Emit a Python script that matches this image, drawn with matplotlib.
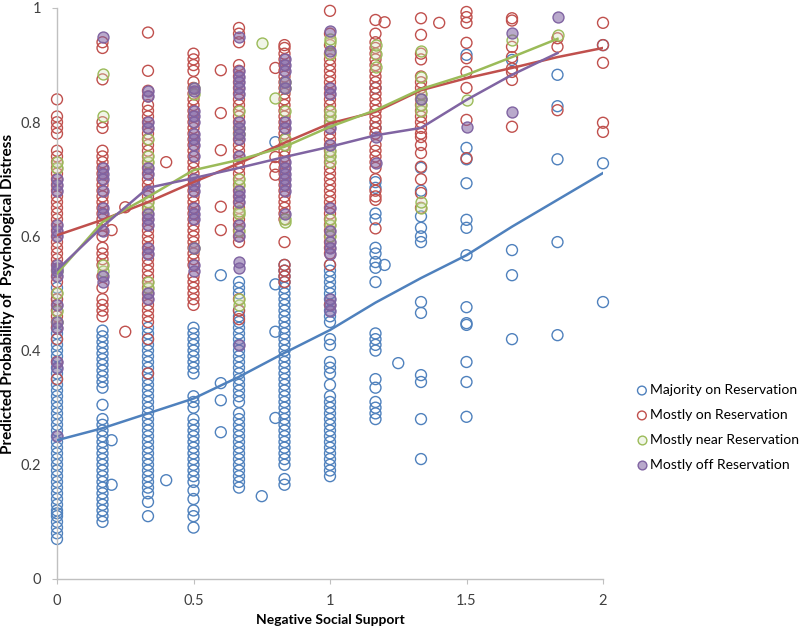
import numpy as np
import matplotlib
matplotlib.use("Agg")
from matplotlib import pyplot as plt

# x positions of the answer columns (negative social support scores)
cols = [0, 1/6, 1/3, 0.5, 2/3, 5/6, 1, 7/6, 4/3, 1.5, 5/3, 11/6, 2]

# predicted probabilities, one list per column
blue_cols = [
    [0.07, 0.08, 0.09, 0.10, 0.11, 0.115, 0.12, 0.13, 0.14, 0.15, 0.16, 0.17, 0.18, 0.19, 0.20, 0.21, 0.22,
     0.23, 0.24, 0.25, 0.26, 0.27, 0.28, 0.29, 0.30, 0.31, 0.32, 0.33, 0.34, 0.35, 0.36, 0.37, 0.38, 0.39,
     0.40, 0.41, 0.42, 0.43, 0.44, 0.45, 0.47, 0.49, 0.51],
    [0.10, 0.11, 0.12, 0.13, 0.14, 0.15, 0.16, 0.17, 0.18, 0.19, 0.20, 0.21, 0.22, 0.23, 0.24, 0.25, 0.26,
     0.27, 0.28, 0.305, 0.335, 0.345, 0.355, 0.365, 0.375, 0.385, 0.395, 0.405, 0.415, 0.425, 0.435],
    [0.11, 0.135, 0.15, 0.16, 0.17, 0.18, 0.19, 0.20, 0.21, 0.22, 0.23, 0.24, 0.25, 0.26, 0.27, 0.28, 0.29,
     0.30, 0.31, 0.32, 0.33, 0.34, 0.35, 0.36, 0.37, 0.38, 0.39, 0.40, 0.41, 0.42, 0.43, 0.44],
    [0.09, 0.11, 0.12, 0.14, 0.155, 0.17, 0.18, 0.19, 0.20, 0.21, 0.22, 0.23, 0.24, 0.25, 0.26, 0.27, 0.28,
     0.30, 0.31, 0.32, 0.36, 0.37, 0.38, 0.39, 0.40, 0.41, 0.42, 0.43, 0.44],
    [0.16, 0.17, 0.18, 0.19, 0.20, 0.21, 0.22, 0.23, 0.24, 0.25, 0.26, 0.27, 0.28, 0.29, 0.31, 0.32, 0.33,
     0.34, 0.35, 0.36, 0.37, 0.38, 0.39, 0.40, 0.41, 0.42, 0.43, 0.44, 0.45, 0.46, 0.47, 0.50, 0.51, 0.52],
    [0.165, 0.175, 0.20, 0.21, 0.22, 0.23, 0.24, 0.25, 0.26, 0.27, 0.28, 0.29, 0.30, 0.31, 0.32, 0.33, 0.34,
     0.35, 0.36, 0.37, 0.38, 0.39, 0.40, 0.41, 0.42, 0.43, 0.44, 0.45, 0.46, 0.47, 0.48, 0.49, 0.50, 0.51,
     0.52, 0.53, 0.54, 0.55],
    [0.18, 0.19, 0.20, 0.21, 0.22, 0.23, 0.24, 0.25, 0.26, 0.27, 0.28, 0.29, 0.30, 0.31, 0.32, 0.34, 0.36,
     0.37, 0.38, 0.41, 0.42, 0.45, 0.46, 0.47, 0.48, 0.49, 0.50, 0.51, 0.52, 0.53, 0.54, 0.55],
    [0.28, 0.29, 0.30, 0.31, 0.335, 0.35, 0.40, 0.41, 0.42, 0.43, 0.52, 0.545, 0.555, 0.57, 0.58, 0.63,
     0.64, 0.685, 0.695, 0.79, 0.86],
    [0.21, 0.28, 0.345, 0.357, 0.466, 0.485, 0.59, 0.60, 0.615, 0.635, 0.68, 0.72],
    [0.284, 0.345, 0.38, 0.445, 0.448, 0.476, 0.567, 0.615, 0.629, 0.693, 0.735, 0.755, 0.918],
    [0.42, 0.532, 0.576, 0.909],
    [0.427, 0.59, 0.735, 0.828, 0.883],
    [0.485, 0.728, 0.935],
]
blue_extra_x = [0.2, 0.2, 0.4, 0.6, 0.6, 0.6, 0.6, 0.75, 0.8, 0.8, 0.8, 0.8, 1.2, 1.25]
blue_extra_y = [0.243, 0.165, 0.173, 0.532, 0.343, 0.313, 0.257, 0.145, 0.765, 0.516, 0.433, 0.282, 0.55, 0.378]

red_cols = [
    [0.35, 0.38, 0.42, 0.44, 0.45, 0.46, 0.47, 0.48, 0.49, 0.50, 0.52, 0.53, 0.54, 0.55, 0.56, 0.57, 0.58,
     0.59, 0.60, 0.61, 0.62, 0.63, 0.64, 0.65, 0.66, 0.67, 0.68, 0.69, 0.70, 0.71, 0.72, 0.73, 0.74, 0.75,
     0.78, 0.79, 0.80, 0.81, 0.84],
    [0.46, 0.47, 0.48, 0.49, 0.51, 0.53, 0.55, 0.56, 0.57, 0.58, 0.60, 0.61, 0.62, 0.63, 0.64, 0.65, 0.66,
     0.67, 0.68, 0.69, 0.70, 0.71, 0.72, 0.73, 0.74, 0.75, 0.79, 0.80, 0.875, 0.93, 0.94],
    [0.36, 0.42, 0.45, 0.46, 0.47, 0.48, 0.49, 0.50, 0.51, 0.52, 0.53, 0.54, 0.55, 0.56, 0.57, 0.58, 0.59,
     0.60, 0.61, 0.62, 0.63, 0.64, 0.65, 0.66, 0.67, 0.68, 0.69, 0.70, 0.71, 0.72, 0.73, 0.74, 0.75, 0.76,
     0.77, 0.78, 0.79, 0.80, 0.81, 0.82, 0.83, 0.845, 0.855, 0.89, 0.957],
    [0.48, 0.49, 0.50, 0.51, 0.52, 0.53, 0.55, 0.56, 0.57, 0.58, 0.59, 0.60, 0.61, 0.62, 0.63, 0.64, 0.65,
     0.66, 0.67, 0.68, 0.69, 0.70, 0.71, 0.72, 0.73, 0.74, 0.75, 0.76, 0.77, 0.78, 0.79, 0.80, 0.81, 0.82,
     0.83, 0.84, 0.85, 0.86, 0.87, 0.89, 0.90, 0.91, 0.92],
    [0.455, 0.47, 0.49, 0.59, 0.60, 0.61, 0.62, 0.63, 0.64, 0.65, 0.66, 0.67, 0.68, 0.69, 0.70, 0.71, 0.72,
     0.73, 0.74, 0.75, 0.76, 0.77, 0.78, 0.79, 0.80, 0.81, 0.82, 0.83, 0.84, 0.85, 0.86, 0.87, 0.88, 0.89,
     0.90, 0.94, 0.955, 0.965],
    [0.52, 0.53, 0.54, 0.55, 0.59, 0.63, 0.64, 0.65, 0.66, 0.67, 0.68, 0.69, 0.70, 0.71, 0.72, 0.73, 0.74,
     0.75, 0.76, 0.77, 0.78, 0.79, 0.80, 0.81, 0.82, 0.83, 0.84, 0.85, 0.86, 0.87, 0.88, 0.89, 0.90, 0.91,
     0.92, 0.93, 0.935],
    [0.48, 0.55, 0.57, 0.58, 0.59, 0.60, 0.61, 0.62, 0.63, 0.64, 0.65, 0.66, 0.67, 0.68, 0.69, 0.70, 0.71,
     0.72, 0.73, 0.74, 0.75, 0.76, 0.77, 0.78, 0.79, 0.80, 0.81, 0.82, 0.83, 0.84, 0.85, 0.86, 0.87, 0.88,
     0.89, 0.90, 0.91, 0.92, 0.935, 0.955, 0.995],
    [0.614, 0.664, 0.67, 0.68, 0.70, 0.72, 0.73, 0.74, 0.75, 0.76, 0.78, 0.79, 0.80, 0.81, 0.82, 0.83, 0.84,
     0.85, 0.86, 0.87, 0.88, 0.89, 0.90, 0.91, 0.92, 0.93, 0.94, 0.955, 0.979],
    [0.65, 0.676, 0.70, 0.722, 0.746, 0.76, 0.774, 0.78, 0.79, 0.80, 0.81, 0.82, 0.83, 0.84, 0.85, 0.86,
     0.87, 0.88, 0.91, 0.92, 0.953, 0.982],
    [0.737, 0.804, 0.86, 0.888, 0.912, 0.939, 0.974, 0.984, 0.993],
    [0.792, 0.874, 0.888, 0.894, 0.914, 0.932, 0.978, 0.982],
    [0.821, 0.932, 0.947],
    [0.783, 0.799, 0.904, 0.935, 0.974],
]
red_extra_x = [0.2, 0.25, 0.25, 0.4, 0.6, 0.6, 0.6, 0.6, 0.6, 0.8, 0.8, 0.8, 0.8, 1.2, 1.4]
red_extra_y = [0.611, 0.651, 0.433, 0.73, 0.891, 0.816, 0.751, 0.652, 0.611, 0.895, 0.739, 0.722, 0.708, 0.975, 0.974]

green_cols = [
    [0.45, 0.47, 0.50, 0.54, 0.72, 0.73],
    [0.54, 0.55, 0.81, 0.885],
    [0.51, 0.52, 0.65, 0.66, 0.73, 0.74, 0.77],
    [0.58, 0.85, 0.86],
    [0.48, 0.49, 0.61, 0.64, 0.645, 0.69, 0.70, 0.78, 0.79, 0.82],
    [0.625, 0.63, 0.76, 0.77, 0.82, 0.86, 0.87],
    [0.60, 0.62, 0.63, 0.73, 0.74, 0.75, 0.80, 0.81, 0.82, 0.92, 0.94, 0.945],
    [0.897, 0.92, 0.935],
    [0.65, 0.66, 0.82, 0.83, 0.84, 0.85, 0.88, 0.925],
    [0.839],
    [0.944],
    [0.953],
    [],
]
green_extra_x = [0.75, 0.8]
green_extra_y = [0.938, 0.842]

purple_cols = [
    [0.25, 0.37, 0.38, 0.44, 0.45, 0.48, 0.53, 0.54, 0.545, 0.55, 0.60, 0.61, 0.62, 0.68, 0.69, 0.70],
    [0.52, 0.53, 0.61, 0.64, 0.65, 0.68, 0.70, 0.71, 0.72, 0.95],
    [0.49, 0.50, 0.57, 0.58, 0.62, 0.63, 0.64, 0.68, 0.71, 0.72, 0.79, 0.80, 0.845, 0.855],
    [0.54, 0.55, 0.58, 0.63, 0.64, 0.65, 0.68, 0.69, 0.70, 0.74, 0.76, 0.77, 0.78, 0.80, 0.81, 0.82,
     0.855, 0.86],
    [0.41, 0.545, 0.555, 0.60, 0.62, 0.66, 0.67, 0.68, 0.74, 0.77, 0.78, 0.79, 0.80, 0.85, 0.86, 0.87,
     0.88, 0.89, 0.95],
    [0.64, 0.68, 0.69, 0.70, 0.71, 0.72, 0.73, 0.79, 0.80, 0.86, 0.87, 0.89, 0.90, 0.91],
    [0.47, 0.48, 0.49, 0.57, 0.58, 0.59, 0.61, 0.65, 0.76, 0.79, 0.85, 0.86, 0.925, 0.96],
    [0.728, 0.774],
    [0.84],
    [0.792],
    [0.818, 0.956],
    [0.984],
    [],
]

# fitted curves (value at each column)
blue_fit = [0.243, 0.264, 0.29, 0.316, 0.354, 0.396, 0.436, 0.484, 0.527, 0.567, 0.617, 0.664, 0.711]
red_fit = [0.602, 0.629, 0.66, 0.695, 0.728, 0.764, 0.798, 0.818, 0.856, 0.877, 0.895, 0.914, 0.93]
green_fit = [0.535, 0.625, 0.669, 0.716, 0.734, 0.757, 0.792, 0.821, 0.858, 0.883, 0.914, 0.946]
purple_fit = [0.541, 0.617, 0.685, 0.702, 0.72, 0.739, 0.757, 0.777, 0.79, 0.839, 0.883, 0.921]

labels = ["Majority on Reservation", "Mostly on Reservation",
          "Mostly near Reservation", "Mostly off Reservation"]
x_ticks = [0, 0.5, 1, 1.5, 2]
x_tick_labels = ["0", "0.5", "1", "1.5", "2"]
y_ticks = [0, 0.2, 0.4, 0.6, 0.8, 1]
y_tick_labels = ["0", "0.2", "0.4", "0.6", "0.8", "1"]

plt.rcParams['font.family'] = ['Lato', 'DejaVu Sans']

BLUE = '#4f81bd'
RED = '#c0504d'
GREEN = '#9bbb59'
PURPLE = '#8064a2'


def flatten(col_lists, ex_x=(), ex_y=()):
    xs, ys = [], []
    for xv, yl in zip(cols, col_lists):
        xs += [xv] * len(yl)
        ys += list(yl)
    return np.array(xs + list(ex_x)), np.array(ys + list(ex_y))


fig = plt.figure(figsize=(8, 6.34), dpi=100)
ax = fig.add_axes([0.07125, 0.0868, 0.6825, 0.9006])

series = [
    (blue_cols, blue_extra_x, blue_extra_y, BLUE, 'none'),
    (red_cols, red_extra_x, red_extra_y, RED, 'none'),
    (green_cols, green_extra_x, green_extra_y, GREEN, (0.84, 0.89, 0.74, 0.35)),
    (purple_cols, [], [], PURPLE, (0.50, 0.39, 0.64, 0.55)),
]
handles = []
for (cl, ex, ey, ec, fc), lab in zip(series, labels):
    xs, ys = flatten(cl, ex, ey)
    h = ax.scatter(xs, ys, s=62, facecolors=fc, edgecolors=ec, linewidths=1.0,
                   clip_on=False, label=lab, zorder=2)
    handles.append(h)

ax.plot(cols, blue_fit, color=BLUE, lw=1.8, zorder=3)
ax.plot(cols, red_fit, color=RED, lw=1.8, zorder=3)
ax.plot(cols[:12], green_fit, color=GREEN, lw=1.8, zorder=3)
ax.plot(cols[:12], purple_fit, color=PURPLE, lw=1.8, zorder=3)

ax.set_xlim(0, 2)
ax.set_ylim(0, 1)
ax.set_xticks(x_ticks)
ax.set_xticklabels(x_tick_labels)
ax.set_yticks(y_ticks)
ax.set_yticklabels(y_tick_labels)
for sp in ['top', 'right']:
    ax.spines[sp].set_visible(False)
for sp in ['left', 'bottom']:
    ax.spines[sp].set_color('#c0c0c0')
    ax.spines[sp].set_linewidth(1.0)
ax.tick_params(colors='#c0c0c0', labelcolor='#404040', labelsize=10.5, length=3.5)
ax.tick_params(axis='x', pad=7)
ax.tick_params(axis='y', pad=8)

ax.set_xlabel("Negative Social Support", fontsize=10, fontweight='bold', labelpad=5)
ax.set_ylabel("Predicted Probability of  Psychological Distress", fontsize=11,
              fontweight='bold', labelpad=4)

fig.legend(handles=handles, labels=labels, loc='upper left', bbox_to_anchor=(0.785, 0.405),
           frameon=False, fontsize=10, handletextpad=0.1, handlelength=1.0,
           labelspacing=0.93, borderpad=0, scatterpoints=1, markerscale=0.8)

fig.savefig("out.png", dpi=100)
